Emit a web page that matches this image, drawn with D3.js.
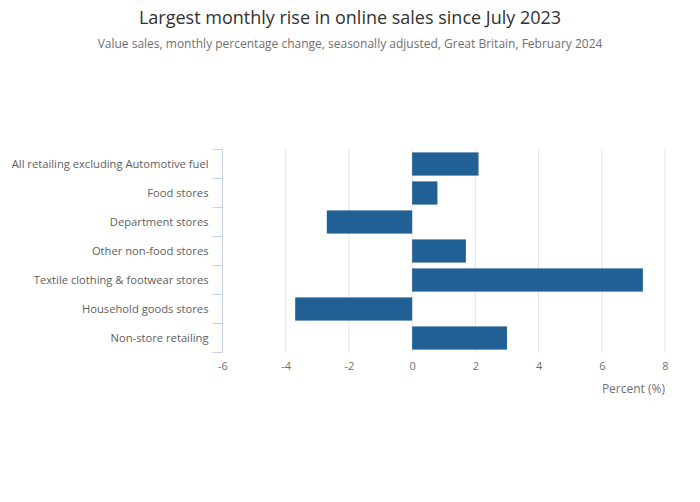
<!DOCTYPE html>
<html>
<head>
<meta charset="utf-8">
<script src="https://cdn.jsdelivr.net/npm/d3@7"></script>
<style>
  body { margin: 0; background: #fff; }
  svg { font-family: "Open Sans", sans-serif; }
</style>
</head>
<body>
<svg id="chart" width="700" height="502"></svg>
<script>
var categories = [
    "All retailing excluding Automotive fuel",
    "Food stores",
    "Department stores",
    "Other non-food stores",
    "Textile clothing & footwear stores",
    "Household goods stores",
    "Non-store retailing"
];
var values = [2.1, 0.8, -2.7, 1.7, 7.3, -3.7, 3.0];
var xTicks = [-6, -4, -2, 0, 2, 4, 6, 8];

var svg = d3.select("#chart"),
    plotLeft = 222.5,
    plotRight = 665,
    plotTop = 149.5,
    plotBottom = 352.5;

var x = d3.scaleLinear().domain([-6, 8]).range([plotLeft, plotRight]),
    y = d3.scaleBand().domain(categories).range([plotTop, plotBottom]).paddingInner(0.2).paddingOuter(0.1);

svg.append("text")
    .attr("x", 350).attr("y", 24)
    .attr("text-anchor", "middle")
    .style("font-size", "18px")
    .style("fill", "#323132")
    .text("Largest monthly rise in online sales since July 2023");

svg.append("text")
    .attr("x", 350).attr("y", 48)
    .attr("text-anchor", "middle")
    .style("font-size", "12px")
    .style("fill", "#707071")
    .text("Value sales, monthly percentage change, seasonally adjusted, Great Britain, February 2024");

// gridlines
svg.append("g")
    .selectAll("line")
    .data(xTicks.filter(function(t) { return t > -6; }))
    .enter().append("line")
    .attr("x1", function(d) { return x(d); })
    .attr("x2", function(d) { return x(d); })
    .attr("y1", plotTop)
    .attr("y2", plotBottom)
    .style("stroke", "#e2e2e3")
    .style("stroke-width", 1);

// bars
svg.append("g")
    .selectAll("rect")
    .data(values)
    .enter().append("rect")
    .attr("x", function(d) { return x(Math.min(0, d)); })
    .attr("y", function(d, i) { return y(categories[i]); })
    .attr("width", function(d) { return Math.abs(x(d) - x(0)); })
    .attr("height", y.bandwidth())
    .style("fill", "#206095");

// x axis
var xAxis = svg.append("g")
    .attr("transform", "translate(0," + plotBottom + ")")
    .call(d3.axisBottom(x).tickValues(xTicks).tickFormat(function(d) { return String(d); }).tickSize(0).tickPadding(10));
xAxis.select(".domain").remove();
xAxis.selectAll("text")
    .style("font-size", "11px")
    .style("fill", "#707071")
    .style("font-family", "'Open Sans', sans-serif");

svg.append("text")
    .attr("x", plotRight)
    .attr("y", 393)
    .attr("text-anchor", "end")
    .style("font-size", "12px")
    .style("fill", "#707071")
    .text("Percent (%)");

// y axis with boundary ticks
var yAxis = svg.append("g")
    .attr("transform", "translate(" + plotLeft + ",0)");
var bounds = d3.range(categories.length + 1).map(function(i) {
    return plotTop + i * (plotBottom - plotTop) / categories.length;
});
yAxis.append("line")
    .attr("x1", 0).attr("x2", 0)
    .attr("y1", plotTop).attr("y2", plotBottom)
    .style("stroke", "#c6d2e6");
yAxis.selectAll(".tk")
    .data(bounds)
    .enter().append("line")
    .attr("class", "tk")
    .attr("x1", -10).attr("x2", 0)
    .attr("y1", function(d) { return d; })
    .attr("y2", function(d) { return d; })
    .style("stroke", "#c6d2e6");
yAxis.selectAll(".lbl")
    .data(categories)
    .enter().append("text")
    .attr("class", "lbl")
    .attr("x", -14)
    .attr("y", function(d) { return y(d) + y.bandwidth() / 2; })
    .attr("dy", "0.35em")
    .attr("text-anchor", "end")
    .style("font-size", "11.2px")
    .style("fill", "#606061")
    .text(function(d) { return d; });
</script>
</body>
</html>
